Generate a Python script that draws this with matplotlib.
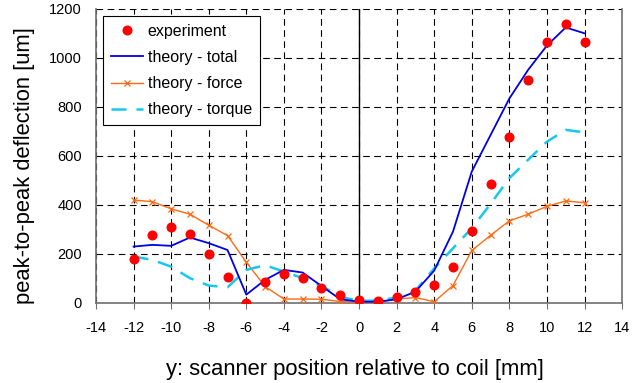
import matplotlib
matplotlib.use("Agg")
import matplotlib.pyplot as plt

plt.rcParams["font.family"] = ["Liberation Sans", "DejaVu Sans"]
plt.rcParams["axes.unicode_minus"] = False

# position along scanner [mm]
y_pos = [-12, -11, -10, -9, -8, -7, -6, -5, -4, -3, -2, -1, 0, 1, 2, 3, 4, 5, 6, 7, 8, 9, 10, 11, 12]

experiment = [180, 277, 310, 281, 201, 105, 0, 84, 120, 103, 62, 31, 12,
              8, 24, 45, 73, 147, 292, 484, 677, 911, 1063, 1137, 1063]
theory_total = [230, 237, 233, 267, 244, 216, 34, 94, 135, 124, 69, 15, 5,
                5, 15, 46, 132, 291, 536, 685, 834, 951, 1050, 1124, 1100]
theory_force = [420, 413, 384, 362, 317, 275, 166, 67, 16, 16, 15, 6, 2,
                3, 16, 22, 5, 71, 214, 276, 335, 362, 394, 416, 409]
theory_torque = [189, 176, 148, 101, 71, 64, 135, 154, 128, 101, 70, 25, 8,
                 10, 22, 50, 141, 223, 305, 404, 509, 584, 658, 706, 696]

xticks = list(range(-14, 15, 2))
yticks = list(range(0, 1201, 200))

fig = plt.figure(figsize=(6.4, 3.83), dpi=100)
ax = fig.add_axes([0.15, 0.209, 0.822, 0.768])

ax.plot(y_pos, experiment, "o", color="#FF0000", ms=6.2, label="experiment", zorder=5)
ax.plot(y_pos, theory_total, "-", color="#0000E6", lw=1.3, label="theory - total", zorder=4)
ax.plot(y_pos, theory_force, "-", color="#FF6A13", lw=1.0, marker="x", ms=4,
        mew=0.9, label="theory - force", zorder=3)
ax.plot(y_pos, theory_torque, "--", color="#14C8F0", lw=1.8, dashes=(6, 4),
        label="theory - torque", zorder=3)

ax.set_xlim(-14, 14)
ax.set_ylim(0, 1200)
ax.set_xticks(xticks)
ax.set_yticks(yticks)
ax.grid(True, color="black", ls=(0, (6, 4)), lw=0.8)
ax.axvline(0, color="black", lw=1.0, zorder=2)

ax.spines["top"].set_visible(False)
for s in ["left", "right", "bottom"]:
    ax.spines[s].set_color("#707070")
    ax.spines[s].set_linewidth(1.2)

ax.tick_params(axis="x", direction="out", length=4, color="#707070", labelsize=10.5, pad=9)
ax.tick_params(axis="y", length=0, labelsize=10.5, pad=10)

ax.set_xlabel("y: scanner position relative to coil [mm]", fontsize=15.8)
ax.set_ylabel("peak-to-peak deflection [um]", fontsize=15.8)
ax.xaxis.set_label_coords(0.492, -0.19)
ax.yaxis.set_label_coords(-0.116, 0.466)

leg = ax.legend(loc="upper left", bbox_to_anchor=(0.013, 0.976), borderaxespad=0,
                fontsize=11.5, fancybox=False, framealpha=1, edgecolor="black",
                borderpad=0.5, handlelength=2.0, handletextpad=0.3, labelspacing=0.7)
leg.get_frame().set_linewidth(0.8)

fig.savefig("out.png", dpi=100)
